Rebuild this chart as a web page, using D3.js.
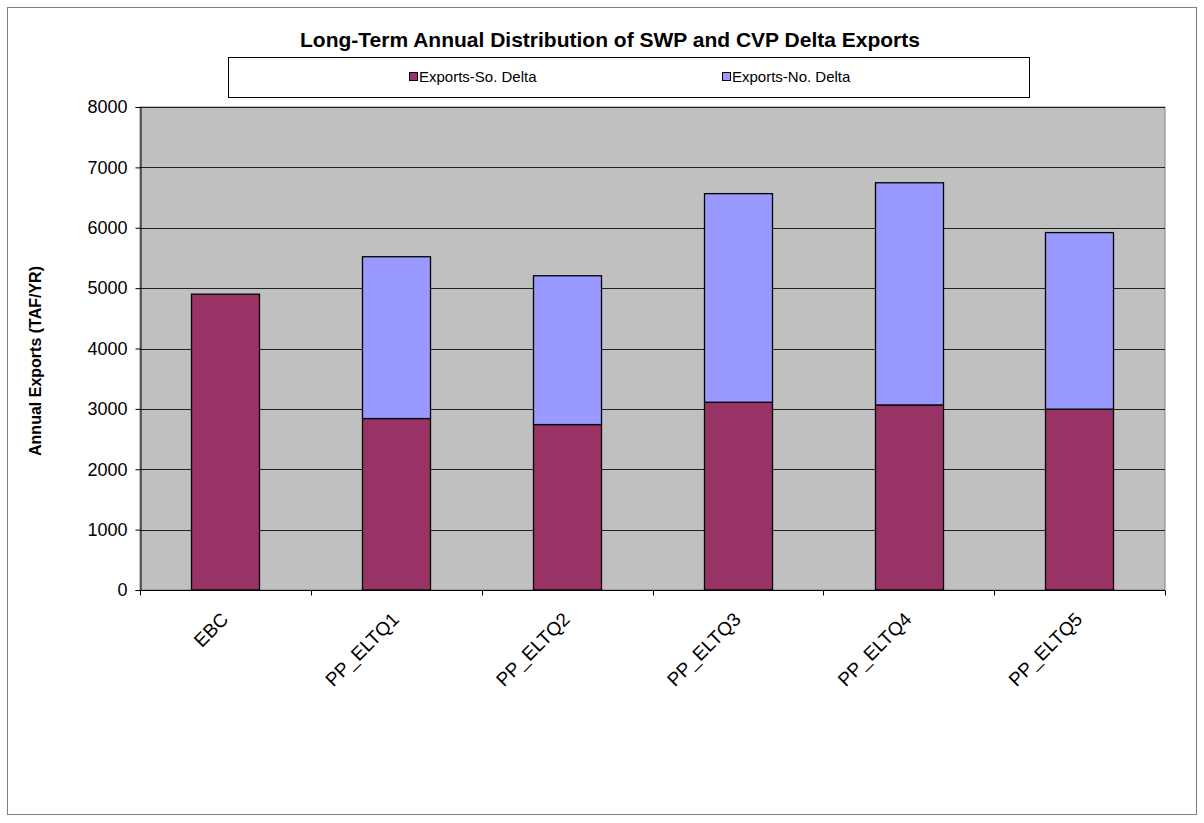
<!DOCTYPE html>
<html><head><meta charset="utf-8">
<script src="https://cdn.jsdelivr.net/npm/d3@7"></script>
<style>body{margin:0;background:#fff;}svg{display:block;font-family:"Liberation Sans",Arial,sans-serif;}</style>
</head><body><svg id="c" width="1204" height="823"></svg>
<script>
const categories = ["EBC","PP_ELTQ1","PP_ELTQ2","PP_ELTQ3","PP_ELTQ4","PP_ELTQ5"];
const soDelta = [4900, 2840, 2740, 3110, 3065, 2995];
const noDelta = [0, 2680, 2465, 3455, 3680, 2925];
const seriesNames = ["Exports-So. Delta","Exports-No. Delta"];
const seriesColors = ["#993366","#9999FF"];
const yTicks = [0,1000,2000,3000,4000,5000,6000,7000,8000];

const svg = d3.select("#c");
svg.append("rect").attr("x",7.5).attr("y",7.5).attr("width",1189).attr("height",807)
  .attr("fill","#fff").attr("stroke","#808080");

const m = {l:140, r:1165, t:107, b:590};
const x = d3.scaleBand().domain(categories).range([m.l,m.r]).paddingInner(0.6).paddingOuter(0.3);
const xb = d3.scaleBand().domain(categories).range([m.l,m.r]);
const y = d3.scaleLinear().domain([0,8000]).range([m.b,m.t]);

svg.append("rect").attr("x",m.l).attr("y",m.t).attr("width",m.r-m.l).attr("height",m.b-m.t)
  .attr("fill","#C0C0C0").attr("stroke","#808080");

svg.append("g").selectAll("line").data(yTicks.slice(1)).join("line")
  .attr("x1",m.l).attr("x2",m.r).attr("y1",d=>Math.round(y(d))+0.5).attr("y2",d=>Math.round(y(d))+0.5)
  .attr("stroke","#202020");

const stacked = d3.stack().keys([0,1]).value((d,k)=>k===0?d.so:d.no)(categories.map((c,i)=>({c,so:soDelta[i],no:noDelta[i]})));
stacked.forEach((s,k)=>{
  svg.append("g").selectAll("rect").data(s.filter(d=>d[1]-d[0]>0)).join("rect")
    .attr("x",d=>Math.round(x(d.data.c))+0.5).attr("width",Math.round(x.bandwidth()))
    .attr("y",d=>y(d[1])).attr("height",d=>y(d[0])-y(d[1]))
    .attr("fill",seriesColors[k]).attr("stroke","#000").attr("stroke-width",1.3);
});

// y axis
const ya = svg.append("g").attr("transform",`translate(${m.l+0.5},0)`)
  .call(d3.axisLeft(y).tickValues(yTicks).tickSize(5).tickPadding(8).tickFormat(d3.format("d")));
ya.select(".domain").attr("stroke","#000");
ya.selectAll("line").attr("stroke","#000");
ya.selectAll("text").attr("font-size",18).attr("fill","#000").attr("font-family","Liberation Sans, Arial");

// x axis
const xg = svg.append("g").attr("transform",`translate(0,${m.b+0.5})`);
xg.append("line").attr("x1",m.l).attr("x2",m.r).attr("stroke","#000");
const bounds = categories.map(c=>xb(c)).concat([m.r]);
xg.selectAll("line.t").data(bounds).join("line").attr("class","t")
  .attr("x1",d=>Math.round(d)+0.5).attr("x2",d=>Math.round(d)+0.5).attr("y1",0).attr("y2",5).attr("stroke","#000");
xg.selectAll("text").data(categories).join("text")
  .attr("transform",d=>`translate(${xb(d)+xb.bandwidth()/2+4},${30}) rotate(-45)`)
  .attr("text-anchor","end").attr("font-size",19).attr("fill","#000").text(d=>d);

// y label
svg.append("text").attr("transform",`translate(41,${361}) rotate(-90)`)
  .attr("text-anchor","middle").attr("font-size",16).attr("font-weight","bold").text("Annual Exports (TAF/YR)");

// title
svg.append("text").attr("x",610).attr("y",47).attr("text-anchor","middle")
  .attr("font-size",21).attr("font-weight","bold").text("Long-Term Annual Distribution of SWP and CVP Delta Exports");

// legend
svg.append("rect").attr("x",228.5).attr("y",57.5).attr("width",801).attr("height",40).attr("fill","#fff").attr("stroke","#000");
const lx = [409, 722];
seriesNames.forEach((n,i)=>{
  svg.append("rect").attr("x",lx[i]+0.5).attr("y",72.5).attr("width",8).attr("height",8)
    .attr("fill",seriesColors[i]).attr("stroke","#000");
  svg.append("text").attr("x",lx[i]+10).attr("y",82).attr("font-size",15).text(n);
});
</script></body></html>
